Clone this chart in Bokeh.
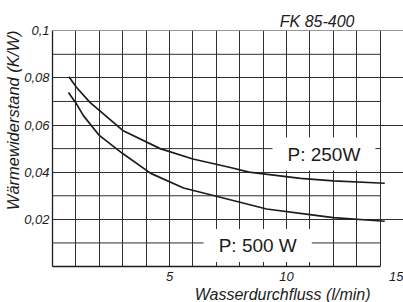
import numpy as np
from bokeh.plotting import figure
from bokeh.models import FixedTicker, Label, Title
from bokeh.embed import file_html
from bokeh.resources import INLINE

# --- data ---
x_250 = [0.7, 1.03, 1.6, 3.0, 4.6, 6.0, 7.6, 8.4, 10.6, 12.0, 14.2]
y_250 = [0.0805, 0.0759, 0.0696, 0.0577, 0.0500, 0.0456, 0.0420, 0.0400, 0.0374, 0.0363, 0.0353]
x_500 = [0.68, 1.03, 1.32, 2.0, 3.0, 4.2, 5.6, 7.0, 9.15, 11.0, 12.0, 14.2]
y_500 = [0.0738, 0.0689, 0.0640, 0.0556, 0.0479, 0.0395, 0.0333, 0.0298, 0.0244, 0.0220, 0.0207, 0.0192]

y_ticks = [0.02, 0.04, 0.06, 0.08, 0.1]
y_tick_labels = ["0,02", "0,04", "0,06", "0,08", "0,1"]
x_ticks = [5, 10, 15]
x_tick_labels = ["5", "10", "15"]
x_grid = list(range(0, 15))
y_major = [0.0, 0.02, 0.04, 0.06, 0.08, 0.1]
y_minor = [0.01, 0.03, 0.05, 0.07, 0.09]

FONT = "Liberation Sans"
INK = "#1c1c1c"
GRID = "#303030"

p = figure(width=403, height=302, x_range=(0, 15), y_range=(0, 0.1001),
           output_backend="svg", toolbar_location=None,
           min_border_left=52, min_border_right=0, min_border_top=30, min_border_bottom=35)
p.background_fill_color = "white"
p.border_fill_color = "white"
p.outline_line_color = None

# grids
p.xgrid.ticker = FixedTicker(ticks=x_grid)
p.ygrid.ticker = FixedTicker(ticks=y_major)
for g in (p.xgrid, p.ygrid):
    g.grid_line_color = GRID
    g.grid_line_width = 1
    g.grid_line_alpha = 1
p.segment(x0=x_grid[0], x1=x_grid[-1], y0=y_minor, y1=y_minor, line_color=GRID, line_width=1)

# axes
p.xaxis.ticker = FixedTicker(ticks=x_ticks)
p.xaxis.major_label_overrides = {t: l for t, l in zip(x_ticks, x_tick_labels)}
p.xaxis.bounds = (x_grid[0], x_grid[-1])
p.yaxis.ticker = FixedTicker(ticks=y_ticks)
p.yaxis.major_label_overrides = {t: l for t, l in zip(y_ticks, y_tick_labels)}
for ax in (p.xaxis, p.yaxis):
    ax.axis_line_color = INK
    ax.axis_line_width = 1.3
    ax.major_tick_out = 0
    ax.major_tick_in = 0
    ax.minor_tick_out = 0
    ax.minor_tick_in = 0
    ax.major_label_text_font = FONT
    ax.major_label_text_font_style = "italic"
    ax.major_label_text_font_size = "13px"
    ax.major_label_text_color = INK
    ax.major_label_text_line_height = 0.8
p.xaxis.major_label_standoff = 5
p.yaxis.major_label_standoff = 3

# curves
p.line(x_250, y_250, line_color=INK, line_width=1.7)
p.line(x_500, y_500, line_color=INK, line_width=1.7)

# power labels with white boxes
for txt, lx, ly in [("P: 250W", 11.6, 0.0477), ("P: 500 W", 8.77, 0.0089)]:
    p.add_layout(Label(x=lx, y=ly, text=txt, text_align="center", text_baseline="middle",
                       text_font=FONT, text_font_size="19px", text_color=INK,
                       background_fill_color="white", background_fill_alpha=1.0,
                       padding=dict(left=15, right=15, top=6, bottom=6)))

# title
p.title.text = "FK 85-400"
p.title.align = "right"
p.title.offset = 49
p.title.standoff = 2
p.title.text_font = FONT
p.title.text_font_style = "italic"
p.title.text_font_size = "16px"
p.title.text_color = INK

# axis titles as side titles
xt = Title(text="Wasserdurchfluss (l/min)", align="right", offset=33, standoff=0,
           text_font=FONT, text_font_style="italic", text_font_size="16px", text_color=INK,
           text_line_height=0.8)
p.add_layout(xt, "below")
yt = Title(text="Wärmewiderstand (K/W)", align="right", offset=0, standoff=0,
           text_font=FONT, text_font_style="italic", text_font_size="16.5px", text_color=INK)
p.add_layout(yt, "left")

open("out.html", "w").write(file_html(p, INLINE))
